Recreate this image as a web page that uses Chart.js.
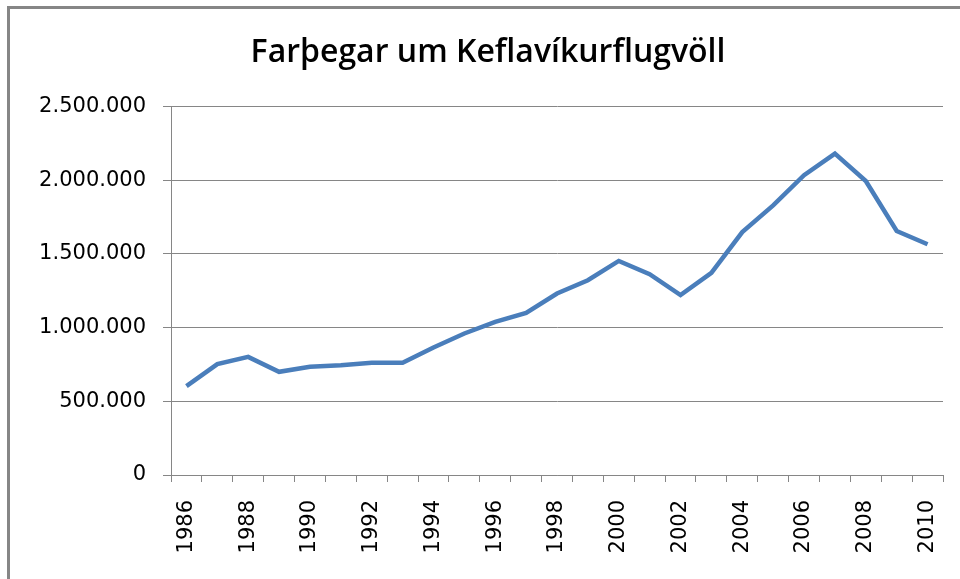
<!DOCTYPE html>
<html>
<head>
<meta charset="utf-8">
<script src="https://cdn.jsdelivr.net/npm/chart.js@4"></script>
<style>
  html, body { margin: 0; padding: 0; background: #fff; overflow: hidden; }
  #frame {
    position: absolute; left: 7px; top: 6px; width: 1000px; height: 1000px;
    border: 3px solid #868686; box-sizing: border-box;
  }
  #wrap { position: absolute; left: 0; top: 0; width: 960px; height: 579px; }
</style>
</head>
<body>
<div id="frame"></div>
<div id="wrap"><canvas id="chart" width="960" height="579"></canvas></div>
<script>
// Farþegar um Keflavíkurflugvöll, 1986-2010
const years = [
  '1986', '1987', '1988', '1989', '1990', '1991', '1992', '1993', '1994',
  '1995', '1996', '1997', '1998', '1999', '2000', '2001', '2002', '2003',
  '2004', '2005', '2006', '2007', '2008', '2009', '2010'
];
const passengers = [
  603000, 752000, 801000, 700000, 734000, 745000, 761000, 761000, 865000,
  960000, 1039000, 1100000, 1231000, 1321000, 1452000, 1362000, 1220000, 1371000,
  1648000, 1829000, 2033000, 2180000, 1994000, 1655000, 1565000
];
const yTicks = [0, 500000, 1000000, 1500000, 2000000, 2500000];

const GRID = '#868686';
const formatNum = v => String(v).replace(/\B(?=(\d{3})+(?!\d))/g, '.');

const ctx = document.getElementById('chart').getContext('2d');
new Chart(ctx, {
  type: 'line',
  data: {
    labels: years,
    datasets: [{
      label: 'Farþegar',
      data: passengers,
      borderColor: '#4a7ebb',
      borderWidth: 4.5,
      pointRadius: 0,
      tension: 0,
      fill: false
    }]
  },
  options: {
    responsive: false,
    animation: false,
    // left padding only shifts the title centre; the y axis fills the rest
    layout: { padding: { left: 33, right: 17, top: 0, bottom: 0 } },
    plugins: {
      legend: { display: false },
      tooltip: { enabled: false },
      title: {
        display: true,
        text: 'Farþegar um Keflavíkurflugvöll',
        color: '#000',
        font: { family: 'Open Sans', size: 32, weight: '600' },
        padding: { top: 34, bottom: 34 }
      }
    },
    scales: {
      x: {
        offset: true,
        grid: { display: true, drawOnChartArea: false, offset: true, color: GRID, tickLength: 7 },
        border: { color: GRID, width: 1 },
        ticks: {
          autoSkip: false,
          maxRotation: 90,
          minRotation: 90,
          padding: 18,
          color: '#000',
          font: { family: 'DejaVu Sans', size: 21 },
          callback: function (val, i) { return i % 2 === 0 ? years[i] : ''; }
        },
        afterFit: scale => {
          scale.height = 104;
          scale.paddingLeft = 0;
          scale.paddingRight = 0;
        }
      },
      y: {
        min: yTicks[0],
        max: yTicks[yTicks.length - 1],
        grid: { color: GRID, tickLength: 8 },
        border: { color: GRID, width: 1 },
        ticks: {
          stepSize: 500000,
          padding: 17,
          color: '#000',
          font: { family: 'DejaVu Sans', size: 21 },
          callback: v => formatNum(v)
        },
        afterFit: scale => { scale.width = 138; }
      }
    }
  }
});
</script>
</body>
</html>
